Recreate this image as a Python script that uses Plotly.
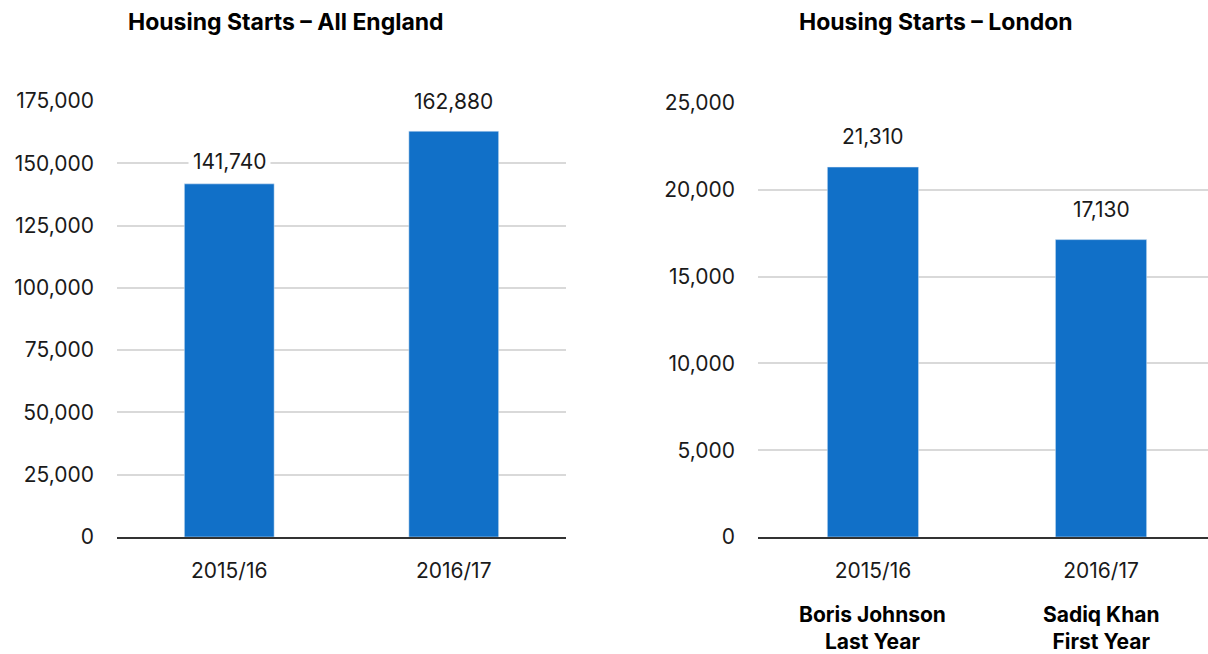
import plotly.graph_objects as go

# Housing starts data
periods = ["2015/16", "2016/17"]
england_starts = [141740, 162880]
london_starts = [21310, 17130]
mayor_labels = ["Boris Johnson<br>Last Year", "Sadiq Khan<br>First Year"]

england_ticks = [0, 25000, 50000, 75000, 100000, 125000, 150000, 175000]
london_ticks = [0, 5000, 10000, 15000, 20000, 25000]

BAR_COLOR = "#1170C8"
GRID_COLOR = "#D9D9D9"
TEXT_COLOR = "#1a1a1a"
FONT = "Inter, Liberation Sans, Arial, sans-serif"

W, H = 1208, 654


def px_x(p):
    return p / W


def px_y(p):
    return (H - p) / H


fig = go.Figure()

fig.add_trace(go.Bar(x=periods, y=england_starts, marker_color=BAR_COLOR,
                     width=0.4, xaxis="x", yaxis="y", hoverinfo="x+y"))
fig.add_trace(go.Bar(x=periods, y=london_starts, marker_color=BAR_COLOR,
                     width=0.4, xaxis="x2", yaxis="y2", hoverinfo="x+y"))

annotations = []
# value labels above each bar, on a white box so gridlines break around them
label_font = dict(size=21, color=TEXT_COLOR, family=FONT)
for p, v, lift in zip(periods, england_starts, [5, 12]):
    annotations.append(dict(x=p, y=v, xref="x", yref="y", text=f"{v:,}",
                            showarrow=False, xanchor="center", yanchor="bottom",
                            yshift=lift, font=label_font, bgcolor="white",
                            borderpad=4))
for p, v in zip(periods, london_starts):
    annotations.append(dict(x=p, y=v, xref="x2", yref="y2", text=f"{v:,}",
                            showarrow=False, xanchor="center", yanchor="bottom",
                            yshift=13, font=label_font, bgcolor="white",
                            borderpad=4))
# mayor labels under the London categories
for p, lab in zip(periods, mayor_labels):
    annotations.append(dict(x=p, y=px_y(628), xref="x2", yref="paper", text=lab,
                            showarrow=False, xanchor="center", yanchor="middle",
                            font=dict(size=21, color="#000000", family=FONT,
                                      weight="bold")))
# panel titles
title_font = dict(size=23, color="#000000", family=FONT)
annotations.append(dict(x=px_x(286), y=px_y(22), xref="paper", yref="paper",
                        text="<b>Housing Starts – All England</b>", showarrow=False,
                        xanchor="center", yanchor="middle", font=title_font))
annotations.append(dict(x=px_x(936), y=px_y(22), xref="paper", yref="paper",
                        text="<b>Housing Starts – London</b>", showarrow=False,
                        xanchor="center", yanchor="middle", font=title_font))

tick_font = dict(size=21, color=TEXT_COLOR, family=FONT)

fig.update_layout(
    width=W, height=H,
    margin=dict(l=0, r=0, t=0, b=0, autoexpand=False),
    paper_bgcolor="white", plot_bgcolor="white",
    showlegend=False,
    annotations=annotations,
    xaxis=dict(domain=[px_x(117), px_x(566)], range=[-0.5, 1.5],
               showgrid=False, showline=True, linecolor="#333333", linewidth=2,
               ticks="", tickfont=tick_font, ticklabelstandoff=14,
               automargin=False, anchor="y"),
    yaxis=dict(domain=[px_y(537), px_y(101)], range=[0, 175000],
               tickvals=england_ticks, ticktext=[f"{t:,}" for t in england_ticks],
               showgrid=True, gridcolor=GRID_COLOR, gridwidth=1.5,
               zeroline=False, showline=False, ticks="",
               tickfont=tick_font, ticklabelstandoff=22,
               automargin=False, anchor="x"),
    xaxis2=dict(domain=[px_x(758), 1.0], range=[-0.504, 1.469],
                showgrid=False, showline=True, linecolor="#333333", linewidth=2,
                ticks="", tickfont=tick_font, ticklabelstandoff=14,
                automargin=False, anchor="y2"),
    yaxis2=dict(domain=[px_y(537), px_y(103)], range=[0, 25000],
                tickvals=london_ticks, ticktext=[f"{t:,}" for t in london_ticks],
                showgrid=True, gridcolor=GRID_COLOR, gridwidth=1.5,
                zeroline=False, showline=False, ticks="",
                tickfont=tick_font, ticklabelstandoff=22,
                automargin=False, anchor="x2"),
)

fig.write_html("out.html")
